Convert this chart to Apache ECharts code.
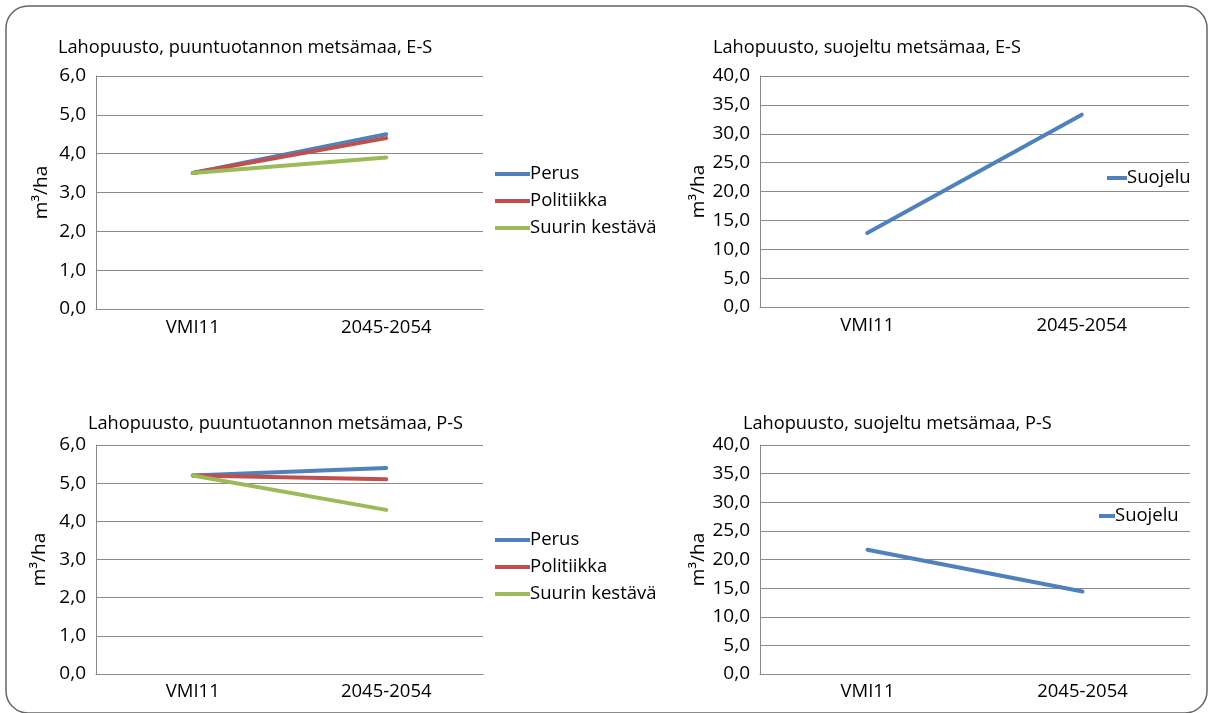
<!DOCTYPE html>
<html>
<head>
<meta charset="utf-8">
<script src="https://cdn.jsdelivr.net/npm/echarts@6/dist/echarts.min.js"></script>
<style>
html,body{margin:0;padding:0;background:#fff;}
#c{width:1211px;height:713px;}
</style>
</head>
<body>
<div id="c"></div>
<script>
var categories = ['VMI11', '2045-2054'];
var titles = [
  'Lahopuusto, puuntuotannon metsämaa, E-S',
  'Lahopuusto, suojeltu metsämaa, E-S',
  'Lahopuusto, puuntuotannon metsämaa, P-S',
  'Lahopuusto, suojeltu metsämaa, P-S'
];
var prodNames = ['Perus', 'Politiikka', 'Suurin kestävä'];
var protName = 'Suojelu';
// Panel 1: puuntuotannon metsämaa, E-S
var esPerus = [3.5, 4.5];
var esPolitiikka = [3.5, 4.4];
var esSuurin = [3.5, 3.9];
// Panel 2: suojeltu, E-S
var esSuojelu = [12.8, 33.3];
// Panel 3: puuntuotannon metsämaa, P-S
var psPerus = [5.2, 5.4];
var psPolitiikka = [5.2, 5.1];
var psSuurin = [5.2, 4.3];
// Panel 4: suojeltu, P-S
var psSuojelu = [21.7, 14.4];
// Y axis scales
var prodAxis = {min: 0, max: 6, interval: 1};
var protAxis = {min: 0, max: 40, interval: 5};
var yName = 'm³/ha';

var colors = ['#4F81BD', '#C0504D', '#9BBB59'];
var FONT = 'Open Sans';
var grey = '#898989';

function fmt(v){ return v.toFixed(1).replace('.', ','); }

var grids = [
  {left: 96, top: 76, width: 387, height: 233},
  {left: 760, top: 76, width: 429, height: 231},
  {left: 96, top: 445, width: 387, height: 229},
  {left: 760, top: 445, width: 430, height: 229}
];
var nameGaps = [45, 51, 47, 49];
var xMargins = [9, 9, 8, 8];

var xAxes = grids.map(function(g, i){
  return {
    type: 'category', gridIndex: i, data: categories, boundaryGap: true,
    axisLine: {show: true, lineStyle: {color: grey, width: 1}},
    axisTick: {show: false},
    axisLabel: {color: '#000', fontFamily: FONT, fontSize: 18.5, margin: xMargins[i]},
    splitLine: {show: false}
  };
});
var yAxes = grids.map(function(g, i){
  var sc = (i % 2 === 0) ? prodAxis : protAxis;
  return {
    type: 'value', gridIndex: i, min: sc.min, max: sc.max, interval: sc.interval,
    name: yName, nameLocation: 'middle', nameRotate: 90, nameGap: nameGaps[i],
    nameTextStyle: {color: '#000', fontFamily: FONT, fontSize: 19},
    axisLine: {show: true, lineStyle: {color: grey, width: 1}},
    axisTick: {show: false},
    axisLabel: {color: '#000', fontFamily: FONT, fontSize: 19, margin: 10, formatter: fmt},
    splitLine: {show: true, lineStyle: {color: grey, width: 1}}
  };
});

function mk(name, data, idx, color){
  return {
    type: 'line', name: name, data: data, xAxisIndex: idx, yAxisIndex: idx,
    symbol: 'none', smooth: false, animation: false,
    lineStyle: {color: color, width: 4, cap: 'round'},
    itemStyle: {color: color}
  };
}

var series = [
  mk(prodNames[0], esPerus, 0, colors[0]),
  mk(prodNames[1], esPolitiikka, 0, colors[1]),
  mk(prodNames[2], esSuurin, 0, colors[2]),
  mk(protName, esSuojelu, 1, colors[0]),
  mk(prodNames[0], psPerus, 2, colors[0]),
  mk(prodNames[1], psPolitiikka, 2, colors[1]),
  mk(prodNames[2], psSuurin, 2, colors[2]),
  mk(protName, psSuojelu, 3, colors[0])
];

var titlePos = [[58, 39], [713, 39], [88, 415], [743, 415]];
var title = titles.map(function(t, i){
  return {text: t, left: titlePos[i][0], top: titlePos[i][1], padding: 0,
    textStyle: {color: '#000', fontFamily: FONT, fontSize: 18.2, fontWeight: 'normal'}};
});

function legend(data, left, top, w){
  return {
    data: data, orient: 'vertical', left: left, top: top, padding: 0,
    itemWidth: w, itemHeight: 4, itemGap: 7, icon: 'rect', selectedMode: false,
    textStyle: {color: '#000', fontFamily: FONT, fontSize: 18.5, lineHeight: 20, padding: [0, 0, 0, -5]}
  };
}

var option = {
  animation: false,
  title: title,
  grid: grids,
  xAxis: xAxes,
  yAxis: yAxes,
  legend: [
    legend(prodNames, 495, 164, 35),
    legend([protName], 1107, 168, 20),
    legend(prodNames, 495, 530, 35),
    legend([protName], 1099, 506, 16)
  ],
  series: series,
  graphic: [{
    type: 'rect', shape: {x: 6, y: 6, width: 1201, height: 707, r: 22},
    style: {fill: 'none', stroke: '#666', lineWidth: 1.5}, silent: true, z: 100
  }]
};
var chart = echarts.init(document.getElementById('c'));
chart.setOption(option);
</script>
</body>
</html>
